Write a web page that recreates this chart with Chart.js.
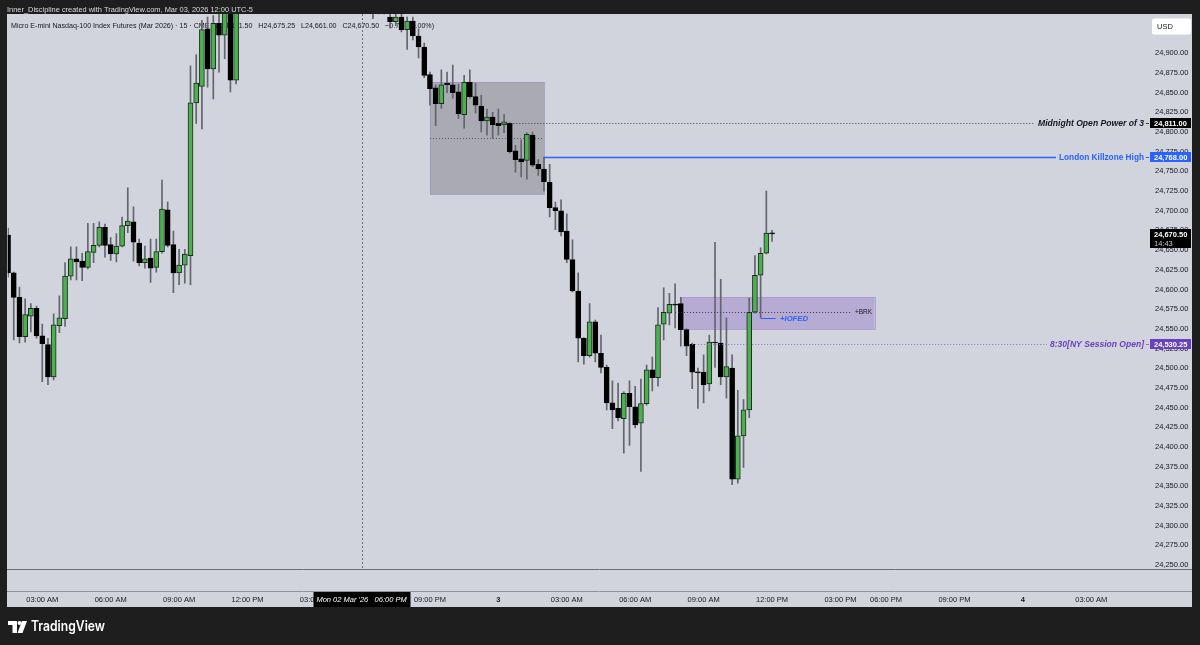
<!DOCTYPE html>
<html><head><meta charset="utf-8">
<script src="https://cdn.jsdelivr.net/npm/chart.js@4.4.1/dist/chart.umd.min.js"></script>
<style>html,body{margin:0;padding:0;background:#1e1e1e;overflow:hidden}#wrap{width:1200px;height:645px}</style>
</head><body><div id="wrap"><canvas id="c" width="1200" height="645"></canvas></div>
<script>
// 15-minute candles, index 0 = Mon 02 Mar 01:30 AM ... index 134 = Tue 03 Mar 12:00 PM (5-6 PM break skipped)
const opens = [24669,24621,24590,24540,24566,24576,24541,24530,24489,24554,24563,24617,24639,24636,24628,24647,24656,24679,24657,24645,24655,24681,24686,24659,24634,24640,24628,24648,24701,24657,24621,24631,24643,24837,24858,24931,24880,24938,24923,24955,24866,
24958,24978,24995,25008,24998,25005,25022,25015,25010,25020,25032,25028,25016,25006,25000,24995,24990,24985,24980,24975,24985,24978,24972,24965,24958,24962,
24946,24940,24946,24930,24941,24922,24908,24873,24856,24836,24862,24860,24851,24822,24863,24845,24833,24814,24819,24811,24809,24811,24776,24766,24764,24796,24759,24753,24736,24704,24700,24674,24638,24598,24538,24516,24559,24519,24501,24456,24449,24436,24468,24451,24430,24455,24498,24488,24556,24570,24581,24582,24549,24530.25,24495,24495,24480,24533,24532,24489,24500,24359,24414,24447,24571,24618,24646,24671.5];
const highs = [24678,24622,24603,24588,24582,24579,24556,24538,24569,24592,24634,24654,24654,24646,24684,24684,24686,24683,24666,24671,24692,24729,24705,24664,24655,24664,24664,24739,24711,24674,24651,24651,24884,24898,24942,24946,24948,24955,24960,24965,24968,
24985,25002,25015,25020,25012,25030,25035,25025,25028,25040,25045,25036,25025,25018,25012,25008,25002,24998,24992,24990,24995,24990,24985,24975,24970,24972,
24955,24952,24950,24946,24946,24931,24913,24876,24860,24879,24876,24885,24861,24872,24879,24862,24847,24829,24825,24829,24822,24812,24783,24790,24799,24800,24765,24768,24759,24711,24714,24696,24663,24621,24539,24582,24561,24542,24504,24484,24481,24470,24484,24477,24486,24504,24514,24577,24602,24595,24607,24590,24550,24532,24500,24517,24542,24660,24613,24564,24517,24472,24460,24589,24643,24653,24725,24675.25];
const lows = [24616,24536,24532,24533,24546,24538,24483,24479,24485,24545,24553,24612,24612,24611,24626,24634,24654,24641,24637,24635,24654,24672,24636,24630,24627,24609,24622,24646,24654,24596,24606,24608,24606,24811,24804,24857,24842,24876,24893,24851,24861,
24955,24970,24985,24990,24985,25000,25010,25000,25002,25012,25020,25010,25000,24992,24985,24980,24975,24970,24968,24965,24970,24960,24955,24944,24950,24950,
24932,24935,24927,24905,24917,24894,24869,24834,24808,24830,24850,24843,24817,24805,24843,24824,24800,24796,24792,24796,24799,24773,24749,24743,24740,24756,24745,24725,24692,24676,24668,24634,24597,24508,24505,24514,24508,24494,24447,24423,24433,24392,24402,24424,24369,24453,24471,24477,24536,24555,24551,24528,24516,24474,24449,24456,24471,24501,24479,24462,24352,24354,24374,24437,24570,24564,24645,24661];
const closes = [24621,24590,24540,24568,24576,24541,24531,24489,24555,24564,24617,24639,24635,24628,24648,24656,24679,24656,24645,24655,24681,24687,24660,24634,24639,24627,24648,24702,24656,24621,24631,24645,24837,24862,24930,24880,24938,24923,24952,24866,24958,
24978,24995,25008,24998,25005,25022,25015,25010,25020,25032,25028,25016,25006,25000,24995,24990,24985,24980,24975,24985,24978,24972,24965,24958,24962,24955,
24940,24946,24930,24941,24922,24908,24872,24855,24836,24860,24860,24850,24823,24863,24845,24834,24814,24819,24809,24808,24813,24775,24765,24762,24797,24758,24753,24737,24704,24700,24673,24638,24598,24538,24516,24559,24519,24501,24456,24447,24437,24468,24451,24428,24455,24498,24488,24555,24571,24581,24580,24549,24528,24495,24494,24479,24533,24532,24489,24502,24359,24414,24447,24571,24618,24646,24671.5,24670.5];

const xTickPos = [6,18,30,42,54,74,86,98,110,122,134,146,154,166,178,190];
const xTickLabels = ['03:00 AM','06:00 AM','09:00 AM','12:00 PM','03:00 PM','09:00 PM','3','03:00 AM','06:00 AM','09:00 AM','12:00 PM','03:00 PM','06:00 PM','09:00 PM','4','03:00 AM'];
const dayTicks = ['3','4'];
const priceTicks = [24250,24275,24300,24325,24350,24375,24400,24425,24450,24475,24500,24525,24550,24575,24600,24625,24650,24675,24700,24725,24750,24775,24800,24825,24850,24875,24900];

// drawings
const zoneFrom = [74, 118];
const zoneTo = [94, 152];
const zoneHigh = [24863.5, 24590];
const zoneLow = [24721, 24549.5];
const levelNames = ['Midnight Open Power of 3', 'London Killzone High', '8:30[NY Session Open]'];
const levelPrices = [24811, 24768, 24530.25];
const levelFrom = [86, 94, 120];
const brkPrice = [24571]; const brkFrom = [117]; const brkTo = [148];
const iofedPrice = [24564]; const iofedFrom = [132];
const crossIdx = 62;
const lastPrice = 24670.5;
const countdown = '14:43';

const FONT = "'Liberation Sans', Arial, sans-serif";
Chart.defaults.font.family = FONT;
Chart.defaults.font.size = 7.5;
Chart.defaults.color = '#131722';

const up = opens.map((o,i)=>closes[i] >= o);
const bodies = opens.map((o,i)=>({x:i, y:[o, closes[i]]}));
const wicks = highs.map((h,i)=>({x:i, y:[lows[i], h]}));

function fitText(ctx, txt, x, y, w, align){
  const m = ctx.measureText(txt).width;
  const s = w/m;
  ctx.save(); ctx.translate(x,y); ctx.scale(s,1);
  ctx.textAlign = align; ctx.fillText(txt,0,0); ctx.restore();
}
function fmt(v){ return v.toLocaleString('en-US',{minimumFractionDigits:2, maximumFractionDigits:2}); }

const tv = {
  id:'tv',
  beforeDraw(chart){
    const c = chart.ctx;
    c.save();
    c.fillStyle = '#1e1e1e'; c.fillRect(0,0,1200,645);
    c.fillStyle = '#d1d4dc'; c.fillRect(7,14,1185,593);
    c.fillStyle = '#dcdcdc'; c.font = '8px '+FONT; c.textBaseline='middle';
    fitText(c,'Inner_Discipline created with TradingView.com, Mar 03, 2026 12:00 UTC-5',7,9.5,246,'left');
    c.restore();
  },
  beforeDatasetsDraw(chart){
    const c = chart.ctx, xs = chart.scales.x, ys = chart.scales.y, a = chart.chartArea;
    c.save();
    c.beginPath(); c.rect(a.left,a.top,a.right-a.left,a.bottom-a.top); c.clip();
    c.fillStyle = '#131722'; c.font = '8px '+FONT; c.textBaseline='middle';
    fitText(c,'Micro E-mini Nasdaq-100 Index Futures (Mar 2026) · 15 · CME   O24,671.50   H24,675.25   L24,661.00   C24,670.50   −0.75 (−0.00%)',11,25.5,423,'left');
    // vertical marker
    const vx = Math.round(xs.getPixelForValue(crossIdx))+0.5;
    c.strokeStyle = '#6a6d78'; c.lineWidth = 1; c.setLineDash([2,2]);
    c.beginPath(); c.moveTo(vx,a.top); c.lineTo(vx,a.bottom); c.stroke();
    c.setLineDash([]);
    // zones
    const zf = ['rgba(120,120,126,0.45)','rgba(126,87,194,0.33)'];
    const zb = ['rgba(160,150,200,0.8)','rgba(150,120,210,0.5)'];
    for(let k=0;k<zoneFrom.length;k++){
      const x1 = xs.getPixelForValue(zoneFrom[k]), x2 = xs.getPixelForValue(zoneTo[k]);
      const y1 = ys.getPixelForValue(zoneHigh[k]), y2 = ys.getPixelForValue(zoneLow[k]);
      c.fillStyle = zf[k]; c.fillRect(x1,y1,x2-x1,y2-y1);
      c.strokeStyle = zb[k]; c.lineWidth=1; c.strokeRect(Math.round(x1)+0.5,Math.round(y1)+0.5,Math.round(x2-x1),Math.round(y2-y1));
    }
    // range midline
    const my = Math.round(ys.getPixelForValue((zoneHigh[0]+zoneLow[0])/2))+0.5;
    c.strokeStyle = '#5a5d66'; c.setLineDash([1,2]);
    c.beginPath(); c.moveTo(xs.getPixelForValue(zoneFrom[0]),my); c.lineTo(xs.getPixelForValue(zoneTo[0]),my); c.stroke();
    c.restore();
  },
  afterDatasetsDraw(chart){
    const c = chart.ctx, xs = chart.scales.x, ys = chart.scales.y, a = chart.chartArea;
    c.save();
    c.beginPath(); c.rect(a.left,a.top,a.right-a.left,a.bottom-a.top); c.clip();
    const lc = ['#3b3e48','#2962ff','#8e6bd0'];
    const lw = [1,1.4,1];
    const tc = ['#131722','#2962ff','#6a3fc0'];
    const tf = ['italic bold 9px ','bold 9px ','italic bold 9px '];
    const tw = [106,85,94];
    for(let k=0;k<levelPrices.length;k++){
      const y = Math.round(ys.getPixelForValue(levelPrices[k]))+0.5;
      const x1 = xs.getPixelForValue(levelFrom[k]);
      const tx = 1144 - tw[k];
      c.strokeStyle = lc[k]; c.lineWidth = lw[k];
      c.setLineDash(k===1?[]:[1,2]);
      c.beginPath(); c.moveTo(x1,y); c.lineTo(tx-3,y); c.stroke();
      c.setLineDash([]); c.lineWidth = 1;
      c.beginPath(); c.moveTo(1146,y); c.lineTo(1149,y); c.stroke();
      c.fillStyle = tc[k]; c.font = tf[k]+FONT; c.textBaseline='middle';
      fitText(c, levelNames[k], 1144, y, tw[k], 'right');
    }
    // BRK
    const by = Math.round(ys.getPixelForValue(brkPrice[0]))+0.5;
    c.strokeStyle = '#3b3e48'; c.setLineDash([1,2]);
    c.beginPath(); c.moveTo(xs.getPixelForValue(brkFrom[0]),by); c.lineTo(xs.getPixelForValue(brkTo[0]),by); c.stroke();
    c.setLineDash([]);
    c.fillStyle = '#131722'; c.font = '7px '+FONT; c.textBaseline='middle';
    fitText(c,'+BRK',855,by,17,'left');
    // IOFED
    const iy = Math.round(ys.getPixelForValue(iofedPrice[0]))+0.5;
    const ix = xs.getPixelForValue(iofedFrom[0]);
    c.strokeStyle = '#2962ff';
    c.beginPath(); c.moveTo(ix,iy); c.lineTo(ix+15,iy); c.stroke();
    c.fillStyle = '#2962ff'; c.font = 'italic bold 8px '+FONT;
    fitText(c,'+IOFED',780,iy,28,'left');
    c.restore();
  },
  afterDraw(chart){
    const c = chart.ctx, xs = chart.scales.x, ys = chart.scales.y;
    c.save();
    // pane separators
    c.strokeStyle = '#6b6e76'; c.lineWidth=1;
    c.beginPath(); c.moveTo(7,569.5); c.lineTo(1192,569.5); c.stroke();
    c.strokeStyle = '#8f929a';
    c.beginPath(); c.moveTo(7,591.5); c.lineTo(1192,591.5); c.stroke();
    // USD
    c.fillStyle = '#ffffff';
    c.beginPath(); c.roundRect(1152,18.5,39,16,2); c.fill();
    c.fillStyle = '#131722'; c.font = '7.5px '+FONT; c.textBaseline='middle'; c.textAlign='left';
    c.fillText('USD',1157,26.5);
    // price labels
    const bc = ['#000000','#2962ff','#6a3fc0'];
    c.font = 'bold 7.5px '+FONT;
    for(let k=0;k<levelPrices.length;k++){
      const y = ys.getPixelForValue(levelPrices[k]);
      c.fillStyle = bc[k]; c.fillRect(1150,Math.round(y)-5,41,10);
      c.fillStyle = '#fff'; c.fillText(fmt(levelPrices[k]),1154,Math.round(y)+0.5);
    }
    const ly = ys.getPixelForValue(lastPrice);
    c.fillStyle = '#000'; c.fillRect(1150,Math.round(ly)-5,41,19);
    c.fillStyle = '#fff'; c.fillText(fmt(lastPrice),1154,Math.round(ly)+0.5);
    c.fillStyle = '#c9c9c9'; c.font = '7.5px '+FONT; c.fillText(countdown,1154,Math.round(ly)+9.5);
    // crosshair time label
    const vx = xs.getPixelForValue(crossIdx);
    c.fillStyle = '#000'; c.fillRect(Math.round(vx)-48.5,592,97,15);
    c.fillStyle = '#fff'; c.font = 'italic 7.5px '+FONT; c.textAlign='center';
    c.fillText("Mon 02 Mar '26   06:00 PM", vx, 600);
    // logo
    c.fillStyle = '#ffffff';
    c.fillRect(8,621,9,4); c.fillRect(12.5,621,4.5,12);
    c.beginPath(); c.arc(19.5,623,2,0,Math.PI*2); c.fill();
    c.beginPath(); c.moveTo(22,621); c.lineTo(27,621); c.lineTo(22.5,633); c.lineTo(17.5,633); c.closePath(); c.fill();
    c.font = '600 14px Inter, '+FONT; c.textAlign='left'; c.textBaseline='middle';
    fitText(c,'TradingView',31,627,74,'left');
    c.restore();
  }
};

new Chart(document.getElementById('c'), {
  data: { datasets: [
    { type:'bar', data: bodies, backgroundColor: up.map(u=>u?'#4caf50':'#000000'), borderColor: up.map(u=>u?'#1d2b1e':'#000000'), borderWidth:1, borderSkipped:false, barThickness:5, minBarLength:1, grouped:false, order:0 },
    { type:'bar', data: wicks, backgroundColor:'#62656e', borderWidth:0, barThickness:1, grouped:false, order:1 }
  ]},
  options: {
    responsive:false, animation:false, devicePixelRatio:1,
    layout:{ padding:{ left:7, top:14, right:8, bottom:40 } },
    plugins:{ legend:{display:false}, tooltip:{enabled:false} },
    scales:{
      x:{ type:'linear', min:-0.05, max:200.12, offset:false,
        grid:{display:false, drawTicks:false}, border:{display:false},
        afterBuildTicks:(s)=>{ s.ticks = xTickPos.map(v=>({value:v})); },
        afterFit:(s)=>{ s.height = 36; },
        ticks:{ autoSkip:false, maxRotation:0, padding:26, color:'#131722',
          font:(ctx)=>({ size:7.5, family:FONT, weight: (ctx.tick && dayTicks.includes(xTickLabels[xTickPos.indexOf(ctx.tick.value)])) ? 'bold':'normal' }),
          callback:(v)=>xTickLabels[xTickPos.indexOf(v)] }
      },
      y:{ type:'linear', position:'right', min:24244.9, max:24949.9,
        grid:{display:false, drawTicks:false}, border:{display:false},
        afterBuildTicks:(s)=>{ s.ticks = priceTicks.map(v=>({value:v})); },
        afterFit:(s)=>{ s.width = 43; },
        ticks:{ padding:6, crossAlign:'near', color:'#131722', font:{size:7.5}, callback:(v)=>fmt(v) }
      }
    }
  },
  plugins:[tv]
});
</script></body></html>
